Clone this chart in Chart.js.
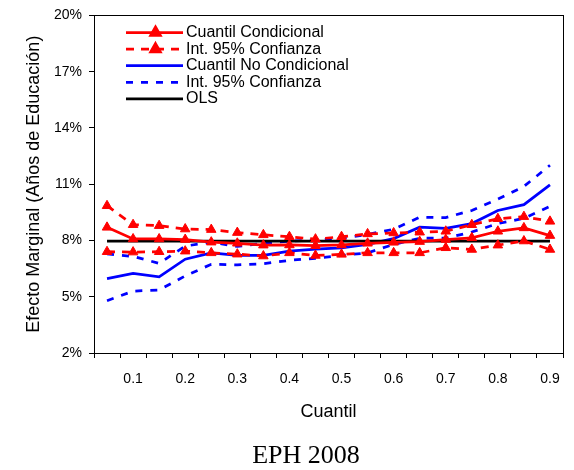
<!DOCTYPE html>
<html>
<head>
<meta charset="utf-8">
<script src="https://cdn.jsdelivr.net/npm/chart.js@4/dist/chart.umd.min.js"></script>
<style>
  html, body { margin: 0; padding: 0; background: #ffffff; }
  #wrap { width: 574px; height: 470px; position: relative; }
</style>
</head>
<body>
<div id="wrap"><canvas id="c" width="574" height="470"></canvas></div>
<script>
// Quantiles 0.05 ... 0.90
const quantiles = ['0.05','0.10','0.15','0.20','0.25','0.30','0.35','0.40','0.45',
                   '0.50','0.55','0.60','0.65','0.70','0.75','0.80','0.85','0.90'];
const xTickLabels = ['', '0.1', '', '0.2', '', '0.3', '', '0.4', '', '0.5',
                     '', '0.6', '', '0.7', '', '0.8', '', '0.9'];

// Marginal effect of education (%)
const condQuantile = [8.70, 8.08, 8.08, 8.05, 7.91, 7.85, 7.75, 7.76, 7.72,
                      7.76, 7.85, 7.90, 7.94, 8.05, 8.14, 8.49, 8.67, 8.26];
const condUpper    = [9.85, 8.84, 8.79, 8.61, 8.58, 8.42, 8.30, 8.20, 8.07,
                      8.20, 8.35, 8.40, 8.44, 8.49, 8.84, 9.16, 9.27, 9.02];
const condLower    = [7.40, 7.38, 7.40, 7.43, 7.34, 7.27, 7.17, 7.34, 7.20,
                      7.26, 7.34, 7.34, 7.34, 7.61, 7.52, 7.75, 7.97, 7.52];
const uncondQuantile = [5.97, 6.24, 6.06, 7.00, 7.34, 7.21, 7.20, 7.43, 7.54,
                        7.61, 7.79, 8.10, 8.71, 8.64, 8.90, 9.60, 9.91, 10.96];
const uncondUpper    = [7.28, 7.15, 6.78, 7.70, 7.91, 7.68, 7.85, 7.96, 8.03,
                        8.12, 8.32, 8.60, 9.24, 9.22, 9.60, 10.20, 10.88, 12.01];
const uncondLower    = [4.79, 5.30, 5.36, 6.11, 6.73, 6.70, 6.76, 6.94, 7.05,
                        7.20, 7.34, 7.79, 8.12, 8.12, 8.45, 8.90, 9.18, 9.82];
const olsValue = 7.97;
const ols = quantiles.map(() => olsValue);

const yTicks = [2, 5, 8, 11, 14, 17, 20];

const RED = '#ff0000';
const BLUE = '#0000ff';

function redSeries(label, data, dash, inLegend) {
  return {
    label, data, legendEntry: inLegend,
    borderColor: RED, backgroundColor: RED, borderWidth: 2.75, borderDash: dash,
    pointStyle: 'triangle', pointRadius: 5.5, pointBorderWidth: 1,
    pointBackgroundColor: RED, pointBorderColor: RED,
    tension: 0, order: 0
  };
}
function blueSeries(label, data, dash, inLegend) {
  return {
    label, data, legendEntry: inLegend,
    borderColor: BLUE, backgroundColor: BLUE, borderWidth: 2.75, borderDash: dash,
    pointRadius: 0, tension: 0, order: 2
  };
}

const datasets = [
  redSeries('Cuantil Condicional', condQuantile, [], true),
  redSeries('Int. 95% Confianza', condUpper, [8, 7], true),
  redSeries('Int. 95% Confianza', condLower, [8, 7], false),
  blueSeries('Cuantil No Condicional', uncondQuantile, [], true),
  blueSeries('Int. 95% Confianza', uncondUpper, [7, 8], true),
  blueSeries('Int. 95% Confianza', uncondLower, [7, 8], false),
  {
    label: 'OLS', data: ols, legendEntry: true,
    borderColor: '#000000', backgroundColor: '#000000', borderWidth: 2.75,
    borderDash: [], pointRadius: 0, tension: 0, order: 1
  }
];

// Frame around the plotting area
const frame = {
  id: 'frame',
  afterDraw(chart) {
    const { ctx, chartArea: a } = chart;
    ctx.save();
    ctx.strokeStyle = '#000000';
    ctx.lineWidth = 1;
    ctx.strokeRect(Math.round(a.left) + 0.5, Math.round(a.top) + 0.5,
                   Math.round(a.right - a.left), Math.round(a.bottom - a.top));
    ctx.restore();
  }
};

// Legend drawn inside the plot, upper left
const insideLegend = {
  id: 'insideLegend',
  afterDraw(chart) {
    const { ctx } = chart;
    const x0 = 126, x1 = 183, textX = 186, y0 = 32.5, step = 16.6;
    let row = 0;
    ctx.save();
    ctx.font = '16px "Liberation Sans", Arial, sans-serif';
    ctx.textBaseline = 'middle';
    ctx.textAlign = 'left';
    chart.data.datasets.forEach(ds => {
      if (!ds.legendEntry) return;
      const y = y0 + row * step;
      ctx.strokeStyle = ds.borderColor;
      ctx.lineWidth = ds.borderWidth;
      ctx.setLineDash(ds.borderDash || []);
      ctx.beginPath();
      ctx.moveTo(x0, y);
      ctx.lineTo(x1, y);
      ctx.stroke();
      ctx.setLineDash([]);
      if (ds.pointStyle === 'triangle') {
        Chart.helpers.drawPoint(ctx, {
          pointStyle: 'triangle', radius: ds.pointRadius, rotation: 0,
          borderWidth: ds.pointBorderWidth
        }, (x0 + x1) / 2 + 1, y);
        ctx.fillStyle = ds.pointBackgroundColor;
        ctx.strokeStyle = ds.pointBorderColor;
        ctx.lineWidth = ds.pointBorderWidth;
        ctx.fill();
        ctx.stroke();
      }
      ctx.fillStyle = '#000000';
      ctx.fillText(ds.label, textX, y);
      row++;
    });
    ctx.restore();
  }
};

// Caption under the chart
const caption = {
  id: 'caption',
  afterDraw(chart) {
    const { ctx } = chart;
    ctx.save();
    ctx.font = '26px "Liberation Serif", "Times New Roman", serif';
    ctx.fillStyle = '#000000';
    ctx.textAlign = 'center';
    ctx.textBaseline = 'alphabetic';
    ctx.fillText('EPH 2008', 306, 462.5);
    ctx.restore();
  }
};

Chart.defaults.font.family = '"Liberation Sans", Arial, sans-serif';
Chart.defaults.color = '#000000';

new Chart(document.getElementById('c'), {
  type: 'line',
  data: { labels: quantiles, datasets },
  options: {
    responsive: false,
    animation: false,
    events: [],
    layout: { padding: { top: 12, right: 11, left: 0, bottom: 0 } },
    plugins: { legend: { display: false }, tooltip: { enabled: false }, title: { display: false } },
    scales: {
      x: {
        type: 'category',
        offset: true,
        afterFit(scale) { scale.height = 117; },
        grid: {
          offset: true, drawOnChartArea: false, drawTicks: true,
          tickLength: 5, color: '#000000', lineWidth: 1
        },
        border: { display: true, color: '#000000', width: 1 },
        ticks: {
          autoSkip: false, maxRotation: 0, minRotation: 0, padding: 13,
          font: { size: 14 }, color: '#000000',
          callback: (v, i) => xTickLabels[i]
        },
        title: {
          display: true, text: 'Cuantil', color: '#000000',
          font: { size: 18 }, padding: { top: 0, bottom: 47 }
        }
      },
      y: {
        min: 2, max: 20,
        afterFit(scale) { scale.width = 94; },
        afterBuildTicks(scale) { scale.ticks = yTicks.map(v => ({ value: v })); },
        grid: {
          drawOnChartArea: false, drawTicks: true, tickLength: 5,
          color: '#000000', lineWidth: 1
        },
        border: { display: true, color: '#000000', width: 1 },
        ticks: {
          padding: 7, font: { size: 14 }, color: '#000000',
          callback: v => v + '%'
        },
        title: {
          display: true, text: 'Efecto Marginal (Años de Educación)', color: '#000000',
          font: { size: 18 }, padding: { top: 23, bottom: 0 }
        }
      }
    }
  },
  plugins: [frame, insideLegend, caption]
});
</script>
</body>
</html>
